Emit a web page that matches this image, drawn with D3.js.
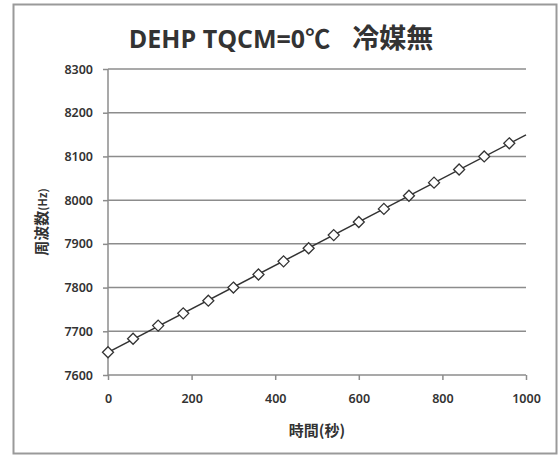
<!DOCTYPE html>
<html>
<head>
<meta charset="utf-8">
<script src="https://cdn.jsdelivr.net/npm/d3@7"></script>
<style>
  body { margin: 0; background: #fff; }
  svg text { font-family: "Noto Sans", "Noto Sans CJK JP", sans-serif; fill: #333; }
</style>
</head>
<body>
<svg id="chart" width="560" height="459"></svg>
<script>
// data
const times = [0, 60, 120, 180, 240, 300, 360, 420, 480, 540, 600, 660, 720, 780, 840, 900, 960];
const freqs = [7652, 7683, 7713, 7741, 7770, 7800, 7830, 7860, 7890, 7920, 7950, 7980, 8010, 8040, 8070, 8100, 8130];
const xTicks = [0, 200, 400, 600, 800, 1000];
const yTicks = [7600, 7700, 7800, 7900, 8000, 8100, 8200, 8300];

const svg = d3.select('#chart');
const plotLeft = 108, plotRight = 526, plotTop = 69, plotBottom = 375;

// outer frame
svg.append('rect')
  .attr('x', 13.5).attr('y', 4.5)
  .attr('width', 543).attr('height', 449)
  .attr('fill', '#fff')
  .attr('stroke', '#9a9a9a')
  .attr('stroke-width', 2);

const x = d3.scaleLinear().domain([0, 1000]).range([plotLeft, plotRight]);
const y = d3.scaleLinear().domain([7600, 8300]).range([plotBottom, plotTop]);

// gridlines
svg.append('g')
  .selectAll('line')
  .data(yTicks.slice(1))
  .enter()
  .append('line')
  .attr('x1', plotLeft).attr('x2', plotRight)
  .attr('y1', d => y(d)).attr('y2', d => y(d))
  .attr('stroke', '#8c8c8c')
  .attr('stroke-width', 1.5);

// y axis
let yAxis = svg.append('g')
  .attr('transform', `translate(${plotLeft},0)`)
  .call(d3.axisLeft(y).tickValues(yTicks).tickSize(5).tickPadding(10).tickFormat(d3.format('d')));
// x axis
let xAxis = svg.append('g')
  .attr('transform', `translate(0,${plotBottom})`)
  .call(d3.axisBottom(x).tickValues(xTicks).tickSize(5).tickPadding(14).tickFormat(d3.format('d')));

[yAxis, xAxis].forEach(ax => {
  ax.select('.domain').attr('stroke', '#8c8c8c').attr('stroke-width', 1.5);
  ax.selectAll('.tick line').attr('stroke', '#8c8c8c').attr('stroke-width', 1.5);
  ax.selectAll('.tick text')
    .attr('font-size', 12.5)
    .attr('font-weight', 600)
    .style('font-family', '"Noto Sans", sans-serif')
    .attr('fill', '#333');
});
yAxis.select('.domain').attr('d', `M0,${plotTop}V${plotBottom}`);
xAxis.select('.domain').attr('d', `M${plotLeft},0H${plotRight}`);

// linear trend line through the points, drawn across the whole x range
const n = times.length;
const mx = d3.mean(times), my = d3.mean(freqs);
let sxy = 0, sxx = 0;
for (let i = 0; i < n; i++) {
  sxy += (times[i] - mx) * (freqs[i] - my);
  sxx += (times[i] - mx) * (times[i] - mx);
}
const slope = sxy / sxx;
const intercept = my - slope * mx;
const trend = [0, 1000].map(t => ({ t: t, f: intercept + slope * t }));

svg.append('path')
  .attr('d', d3.line().x(d => x(d.t)).y(d => y(d.f))(trend))
  .attr('fill', 'none')
  .attr('stroke', '#333')
  .attr('stroke-width', 1.5);

// diamond markers
const pts = times.map((t, i) => ({ t: t, f: freqs[i] }));
svg.append('g')
  .selectAll('path')
  .data(pts)
  .enter()
  .append('path')
  .attr('d', 'M0,-5.5L5.5,0L0,5.5L-5.5,0Z')
  .attr('transform', d => `translate(${x(d.t)},${y(d.f)})`)
  .attr('fill', '#fff')
  .attr('stroke', '#333')
  .attr('stroke-width', 1.3);

// title
let title = svg.append('text')
  .attr('x', 281).attr('y', 48)
  .attr('text-anchor', 'middle')
  .attr('font-weight', 700)
  .style('font-family', '"Open Sans", "Noto Sans CJK JP", sans-serif')
  .attr('fill', '#222');
title.append('tspan').attr('font-size', 25).text('DEHP TQCM=0℃');
title.append('tspan').attr('font-size', 27).attr('dx', 22)
  .style('font-family', '"Noto Sans CJK JP", sans-serif').text('冷媒無');

// axis titles
svg.append('text')
  .attr('x', 317).attr('y', 436)
  .attr('text-anchor', 'middle')
  .attr('font-size', 15)
  .attr('font-weight', 700)
  .style('font-family', '"Noto Sans CJK JP", sans-serif')
  .text('時間(秒)');

svg.append('text')
  .attr('transform', 'translate(47,222) rotate(-90)')
  .attr('text-anchor', 'middle')
  .attr('font-size', 15)
  .attr('font-weight', 700)
  .style('font-family', '"Noto Sans CJK JP", sans-serif')
  .html('周波数<tspan font-size="11">(Hz)</tspan>');
</script>
</body>
</html>
